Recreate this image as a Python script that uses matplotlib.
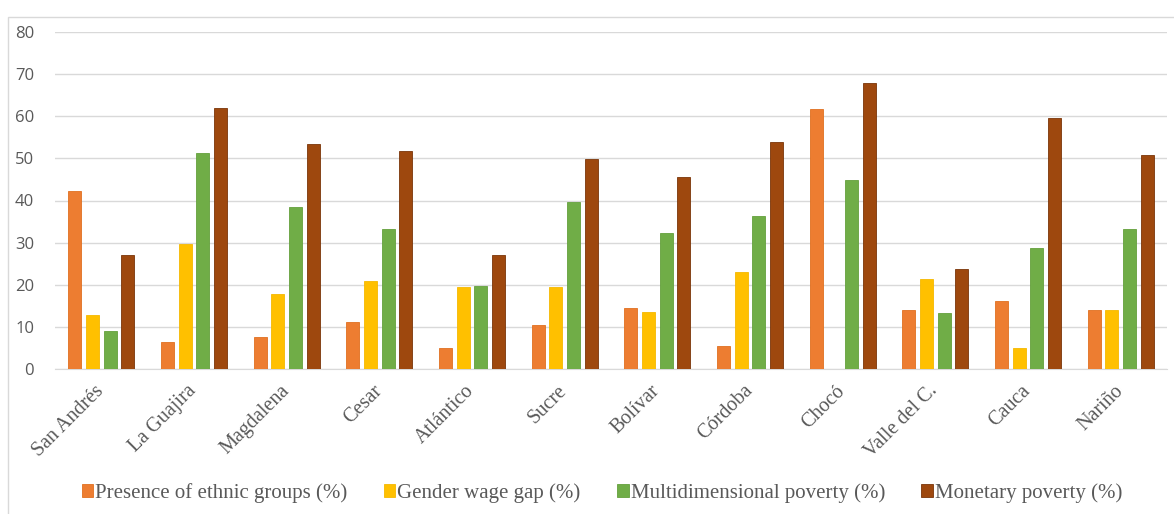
import matplotlib
matplotlib.use("Agg")
import matplotlib.pyplot as plt
from matplotlib.patches import Rectangle
import matplotlib.transforms as mtransforms
import numpy as np

regions = ["San Andrés", "La Guajira", "Magdalena", "Cesar", "Atlántico", "Sucre",
           "Bolívar", "Córdoba", "Chocó", "Valle del C.", "Cauca", "Nariño"]
series_names = ["Presence of ethnic groups (%)", "Gender wage gap (%)",
                "Multidimensional poverty (%)", "Monetary poverty (%)"]
ethnic = [42.3, 6.4, 7.5, 11.1, 4.9, 10.5, 14.4, 5.5, 61.7, 14.0, 16.2, 14.0]
wage_gap = [12.9, 29.6, 17.9, 21.0, 19.4, 19.4, 13.6, 23.0, 0.0, 21.3, 4.9, 14.0]
multidim = [9.0, 51.3, 38.5, 33.2, 19.8, 39.7, 32.2, 36.4, 44.9, 13.4, 28.7, 33.2]
monetary = [27.1, 61.9, 53.4, 51.7, 27.1, 49.9, 45.6, 53.8, 68.0, 23.7, 59.5, 50.7]
yticks = [0, 10, 20, 30, 40, 50, 60, 70, 80]

colors = ["#ED7D31", "#FFC000", "#70AD47", "#9E480E"]
edges = ["#E07020", "#F5B800", "#64A03C", "#7A3508"]

W, H = 1174, 514
fig = plt.figure(figsize=(W / 100, H / 100), dpi=100)
ax = fig.add_axes([55 / W, 1 - 369 / H, (1167 - 55) / W, (369 - 32) / H])

x = np.arange(len(regions))
step = 0.19
width = 0.14
data = [ethnic, wage_gap, multidim, monetary]
for i, (vals, c, ec, name) in enumerate(zip(data, colors, edges, series_names)):
    ax.bar(x + (i - 1.5) * step, vals, width, color=c, edgecolor=ec, linewidth=0.6,
           label=name, zorder=3)

ax.set_xlim(-0.5, len(regions) - 0.5)
ax.set_ylim(0, 80)
ax.set_yticks(yticks)
ax.grid(axis="y", color="#D9D9D9", linewidth=1.0, zorder=0)
for s in ["top", "right", "left"]:
    ax.spines[s].set_visible(False)
ax.spines["bottom"].set_color("#D9D9D9")
ax.tick_params(axis="both", length=0)
ax.tick_params(axis="y", pad=15, labelsize=12, labelcolor="#595959")
for lab in ax.get_yticklabels():
    lab.set_fontfamily("Open Sans")

ax.set_xticks(x)
ax.set_xticklabels(regions, rotation=45, ha="right", rotation_mode="anchor",
                   fontfamily="Liberation Serif", fontsize=14.5, color="#595959")
ax.tick_params(axis="x", pad=9)
offset = mtransforms.ScaledTranslation(-7 / 100, 0, fig.dpi_scale_trans)
for lab in ax.get_xticklabels():
    lab.set_transform(lab.get_transform() + offset)

leg = fig.legend(loc="center", bbox_to_anchor=(0.5 + 15 / W, 1 - 493 / H), ncol=4, frameon=False,
                 prop={"family": "Liberation Serif", "size": 15},
                 handlelength=0.55, handleheight=0.55, handletextpad=0.1, columnspacing=1.75)
for t in leg.get_texts():
    t.set_color("#595959")

fig.patches.append(Rectangle((8 / W, -0.01), 1.0, 1 - 17 / H + 0.01, transform=fig.transFigure,
                             fill=False, edgecolor="#D9D9D9", linewidth=1.0))

fig.savefig("out.png", dpi=100, facecolor="white")
